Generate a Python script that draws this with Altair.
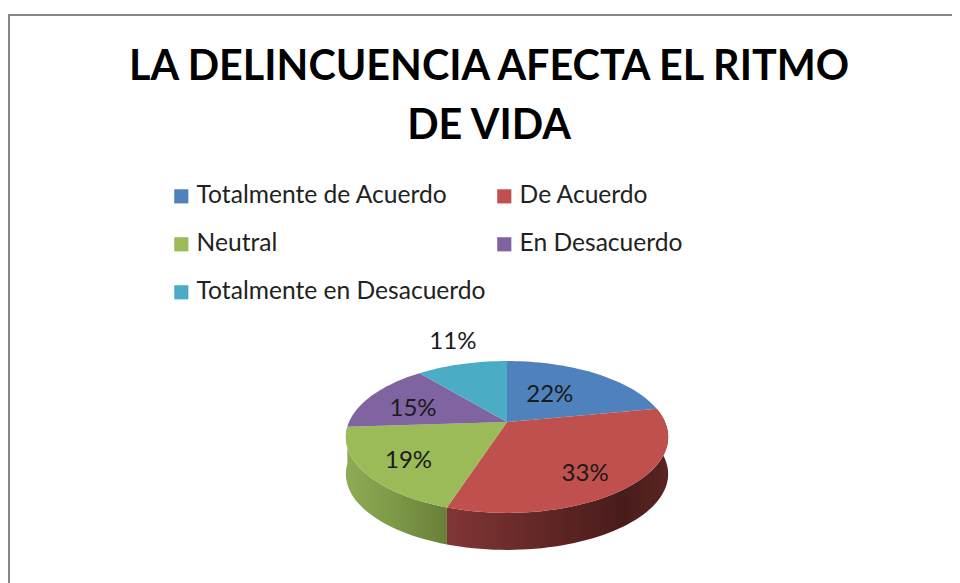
import math
import altair as alt
import pandas as pd

TITLE_LINES = ["LA DELINCUENCIA AFECTA EL RITMO", "DE VIDA"]
CATEGORIES = ["Totalmente de Acuerdo", "De Acuerdo", "Neutral", "En Desacuerdo", "Totalmente en Desacuerdo"]
VALUES = [22, 33, 19, 15, 11]
COLORS = ["#4f81bd", "#c0504d", "#9bbb59", "#8064a2", "#4bacc6"]

# layout of the tilted pie (pixels in the plot area)
W, H = 944, 575
CX, CY = 499, 414       # projected centre
SX, SY = 158, 73        # unit radius in pixels
TILT = 0.197            # perspective factor
DEPTH = 37 / SY
LABEL_R = [0.5, 0.75, 0.72, 0.66, 1.45]
LABEL_NUDGE = [(-4, -1), (-10, 6), (0, 4), (-3, 5), (7, -2)]
STEP_DEG = 2


def project(phi, r=1.0):
    u, v = r * math.sin(phi), r * math.cos(phi)
    w = 1 + TILT * v
    return u / w, v / w


rows, walls, labels = [], [], []
total = sum(VALUES)
cum = 0
for s, (cat, val) in enumerate(zip(CATEGORIES, VALUES)):
    a0 = cum / total * 2 * math.pi
    a1 = (cum + val) / total * 2 * math.pi
    cum += val
    n = max(2, int(math.degrees(a1 - a0) / STEP_DEG))
    angles = [a0 + (a1 - a0) * k / n for k in range(n + 1)]
    pts = [(0.0, 0.0)] + [project(a) for a in angles]
    for i, (x, y) in enumerate(pts):
        rows.append({"cat": cat, "i": i, "x": x, "y": y})
    rim = [project(a) for a in angles]
    wall = rim + [(x, y - DEPTH) for x, y in reversed(rim)]
    for i, (x, y) in enumerate(wall):
        walls.append({"cat": cat, "i": i, "x": x, "y": y})
    lx, ly = project((a0 + a1) / 2, LABEL_R[s])
    nx, ny = LABEL_NUDGE[s]
    labels.append({"x": lx + nx / SX, "y": ly - ny / SY, "t": f"{val}%"})

top_df = pd.DataFrame(rows)
wall_df = pd.DataFrame(walls)
label_df = pd.DataFrame(labels)

x_scale = alt.Scale(domain=[-CX / SX, (W - CX) / SX], range=[0, W], nice=False, zero=False)
y_scale = alt.Scale(domain=[CY / SY, -(H - CY) / SY], range=[0, H], nice=False, zero=False)
X = alt.X("x:Q", scale=x_scale, axis=None)
Y = alt.Y("y:Q", scale=y_scale, axis=None)


def wall_layer(cat, stops):
    return (
        alt.Chart(wall_df[wall_df.cat == cat])
        .mark_line(
            interpolate="linear-closed",
            strokeWidth=0,
            fill=alt.Gradient(
                gradient="linear", x1=0, x2=1, y1=0, y2=0,
                stops=[alt.GradientStop(color=c, offset=o) for o, c in stops],
            ),
        )
        .encode(x=X, y=Y, order="i:Q")
    )


wall_red = wall_layer("De Acuerdo", [(0, "#803635"), (0.55, "#5a2322"), (0.8, "#481c1b"), (1, "#5a2423")])
wall_green = wall_layer("Neutral", [(0, "#90ab55"), (0.5, "#7d9847"), (1, "#697f38")])

top = (
    alt.Chart(top_df)
    .mark_line(interpolate="linear-closed", strokeWidth=0)
    .encode(
        x=X, y=Y, order="i:Q",
        fill=alt.Fill(
            "cat:N",
            sort=CATEGORIES,
            scale=alt.Scale(domain=CATEGORIES, range=COLORS),
            legend=alt.Legend(
                title=None, orient="none", legendX=161, legendY=176, columns=2,
                direction="horizontal",
                symbolType="square", symbolSize=200, symbolStrokeWidth=0,
                labelFont="Lato", labelFontSize=24.6, labelColor="#222222",
                rowPadding=23, columnPadding=6, labelOffset=3, labelLimit=400,
            ),
        ),
    )
)

pct = (
    alt.Chart(label_df)
    .mark_text(font="Lato", fontSize=24, color="#1a1a1a", baseline="middle", align="center")
    .encode(x=X, y=Y, text="t:N")
)

title_df = pd.DataFrame({"t": TITLE_LINES, "row": [0, 1]})
title_layers = [
    alt.Chart(title_df[title_df.row == r])
    .mark_text(font="Lato", fontWeight="bold", fontSize=41.3, color="#000000", align="center", baseline="alphabetic")
    .encode(text="t:N", x=alt.value(481), y=alt.value(72 + 59 * r))
    for r in [0, 1]
]

frame_df = pd.DataFrame({"a": [0]})
frame_left = alt.Chart(frame_df).mark_rule(color="#868686", strokeWidth=2).encode(
    x=alt.value(1), y=alt.value(6), y2=alt.value(H))
frame_top = alt.Chart(frame_df).mark_rule(color="#868686", strokeWidth=2).encode(
    x=alt.value(0), x2=alt.value(W), y=alt.value(7))

chart = (
    alt.layer(frame_left, frame_top, wall_red, wall_green, top, pct, *title_layers)
    .properties(width=W, height=H, padding=0, autosize=alt.AutoSizeParams(type="none"))
    .configure_view(stroke=None)
)

chart.save("out.html", embed_options={"renderer": "svg", "actions": False})
